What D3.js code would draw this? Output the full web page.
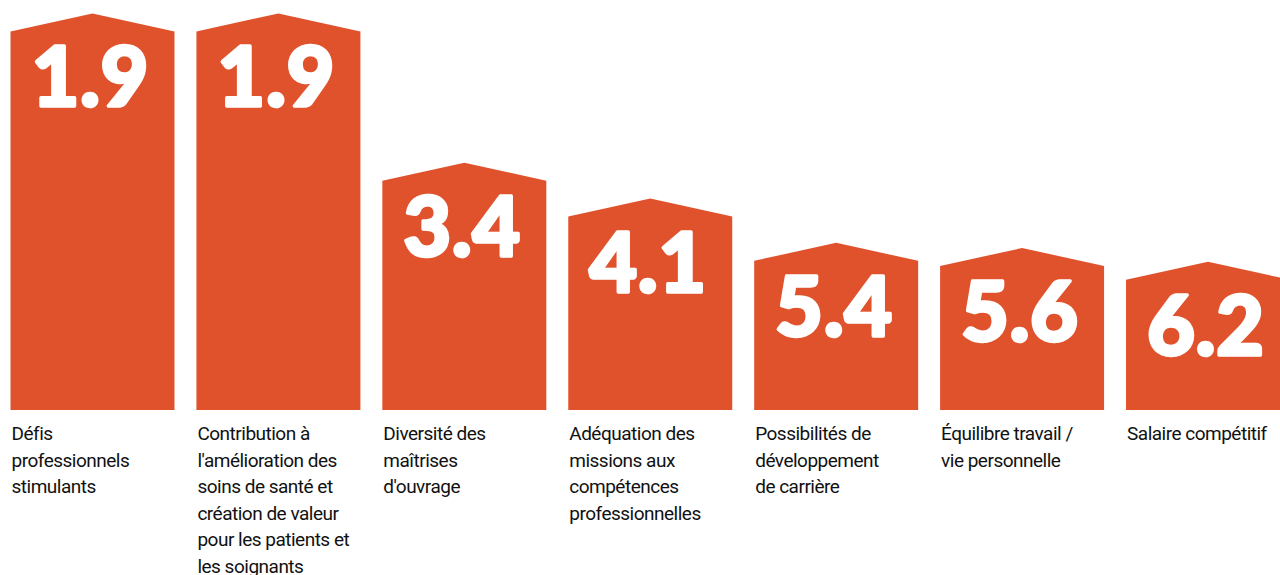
<!DOCTYPE html>
<html>
<head>
<meta charset="utf-8">
<script src="https://cdn.jsdelivr.net/npm/d3@7"></script>
<style>
  html, body { margin: 0; padding: 0; background: #fff; overflow: hidden; }
  svg { display: block; }
</style>
</head>
<body>
<svg></svg>
<script>
// data
const labels = [
  ["Défis", "professionnels", "stimulants"],
  ["Contribution à", "l'amélioration des", "soins de santé et", "création de valeur", "pour les patients et", "les soignants"],
  ["Diversité des", "maîtrises", "d'ouvrage"],
  ["Adéquation des", "missions aux", "compétences", "professionnelles"],
  ["Possibilités de", "développement", "de carrière"],
  ["Équilibre travail /", "vie personnelle"],
  ["Salaire compétitif"]
];
const scores = [1.9, 1.9, 3.4, 4.1, 5.4, 5.6, 6.2];

const width = 1280, height = 575;
const base = 410;     // bottom of the houses
const roof = 18;      // roof height

const svg = d3.select("svg")
    .attr("width", width)
    .attr("height", height);

const x = d3.scaleBand()
    .domain(d3.range(scores.length))
    .range([10.5, 1290])
    .paddingInner(0.118)
    .paddingOuter(0);

// lower score = better = taller house
const y = d3.scalePow()
    .exponent(-0.75)
    .domain([1.9, 6.2])
    .range([31.4, 279.8]);

const houses = svg.selectAll("g.house")
  .data(scores)
  .enter()
  .append("g")
    .attr("class", "house");

houses.append("path")
    .attr("fill", "#e0522c")
    .attr("d", (d, i) => {
      const x0 = x(i), x1 = x(i) + x.bandwidth(), xm = x(i) + x.bandwidth() / 2;
      const top = y(d);
      return `M${x0},${base}L${x0},${top}L${xm},${top - roof}L${x1},${top}L${x1},${base}Z`;
    });

houses.append("text")
    .attr("x", (d, i) => x(i) + x.bandwidth() / 2 - 2)
    .attr("y", d => y(d) + 75)
    .attr("text-anchor", "middle")
    .attr("fill", "#fff")
    .attr("stroke", "#fff")
    .attr("stroke-width", 3.5)
    .attr("stroke-linejoin", "round")
    .style("font-family", "Lato, sans-serif")
    .style("font-weight", 900)
    .style("font-size", "82px")
    .style("letter-spacing", "1px")
    .text(d => d3.format(".1f")(d));

const cat = svg.selectAll("text.cat")
  .data(labels)
  .enter()
  .append("text")
    .attr("class", "cat")
    .attr("x", (d, i) => x(i) + 1)
    .attr("y", 440)
    .attr("fill", "#111")
    .style("font-family", "Roboto, sans-serif")
    .style("font-weight", 400)
    .style("font-size", "19px")
    .style("letter-spacing", "-0.5px");

cat.selectAll("tspan")
  .data(d => d)
  .enter()
  .append("tspan")
    .attr("x", function() { return d3.select(this.parentNode).attr("x"); })
    .attr("dy", (d, i) => i === 0 ? 0 : 26.5)
    .text(d => d);
</script>
</body>
</html>
